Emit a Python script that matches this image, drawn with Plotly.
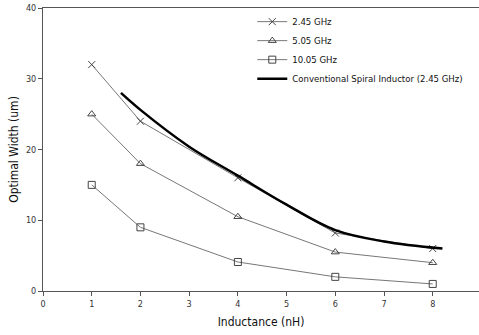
import plotly.graph_objects as go

inductance = [1, 2, 4, 6, 8]
w_245 = [32, 24, 16, 8.2, 6.0]
w_505 = [25, 18, 10.5, 5.5, 4.0]
w_1005 = [15, 9, 4.1, 2.0, 1.0]

conv_x = [1.6, 2, 3, 4, 5, 6, 7, 8.2]
conv_y = [28, 25.6, 20.4, 16.3, 12.2, 8.6, 7.0, 6.0]

x_ticks = [0, 1, 2, 3, 4, 5, 6, 7, 8]
y_ticks = [0, 10, 20, 30, 40]

FONT = "Liberation Sans Narrow, DejaVu Sans Condensed, Arial Narrow, sans-serif"
LINE_C = "#777777"
MK_C = "#444444"

fig = go.Figure()
series = [
    ("2.45 GHz", w_245, "x-thin-open"),
    ("5.05 GHz", w_505, "triangle-up-open"),
    ("10.05 GHz", w_1005, "square-open"),
]
for name, ys, sym in series:
    fig.add_trace(go.Scatter(
        x=inductance, y=ys, name=name, mode="lines+markers",
        line=dict(color=LINE_C, width=1),
        marker=dict(symbol=sym, size=7, color=MK_C, line=dict(color=MK_C, width=1)),
    ))
fig.add_trace(go.Scatter(
    x=conv_x, y=conv_y, name="Conventional Spiral Inductor (2.45 GHz)",
    mode="lines", line=dict(color="black", width=2.5, shape="spline", smoothing=1.0),
))

fig.update_layout(
    width=479, height=335,
    margin=dict(l=43, r=0, t=8, b=44, autoexpand=False),
    paper_bgcolor="white", plot_bgcolor="white",
    font=dict(family=FONT, size=10, color="#222222"),
    showlegend=True,
    legend=dict(x=0.48, y=1.003, xanchor="left", yanchor="top",
                bgcolor="rgba(0,0,0,0)", font=dict(size=9.5, color="#111111"),
                itemwidth=30, tracegroupgap=0),
    xaxis=dict(range=[0, 8.95], tickvals=x_ticks, ticktext=[str(v) for v in x_ticks],
               showgrid=False, zeroline=False, showline=True, linecolor="#555555",
               linewidth=1, mirror=True, ticks="outside", ticklen=4, tickcolor="#555555",
               tickfont=dict(size=9, color="#333333"),
               title=dict(text="Inductance (nH)", font=dict(size=12, color="#111111"), standoff=9)),
    yaxis=dict(range=[0, 40], tickvals=y_ticks, ticktext=[str(v) for v in y_ticks],
               showgrid=False, zeroline=False, showline=True, linecolor="#555555",
               linewidth=1, ticks="outside", ticklen=4, tickcolor="#555555",
               tickfont=dict(size=9, color="#333333"),
               title=dict(text="Optimal Width (um)", font=dict(size=12, color="#111111"), standoff=4)),
)

fig.write_html("out.html")
